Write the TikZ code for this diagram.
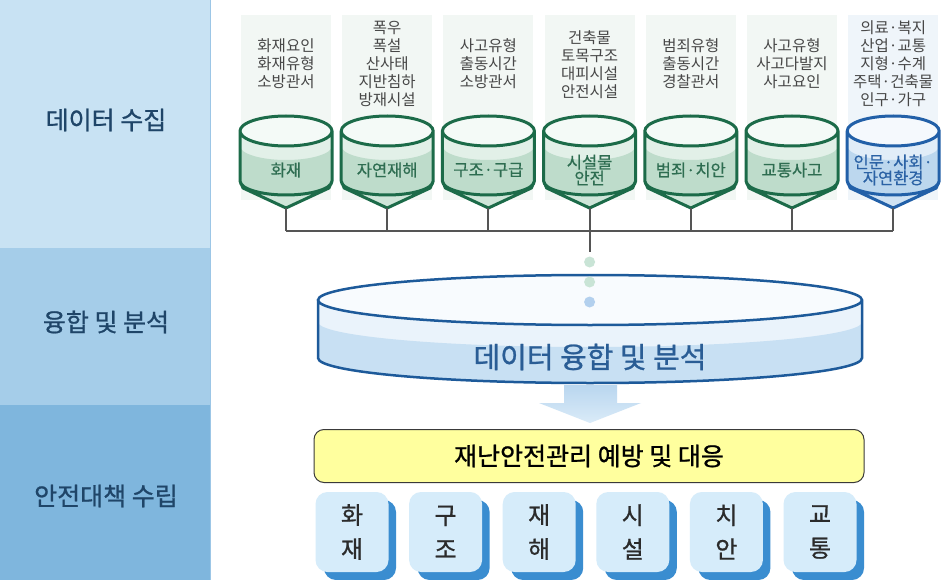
\documentclass[tikz,border=0pt]{standalone}
\usepackage{fontspec}
\setmainfont{Noto Sans CJK KR}
\newfontfamily\medfont[FakeBold=0.9]{Noto Sans CJK KR}
\newfontfamily\semifont[FakeBold=0.5]{Noto Sans CJK KR}
\usetikzlibrary{calc}

\definecolor{bandA}{HTML}{C8E2F3}
\definecolor{bandB}{HTML}{A5CDE9}
\definecolor{bandC}{HTML}{7FB6DD}
\definecolor{bandEdge}{HTML}{9CC6E6}
\definecolor{stageText}{HTML}{1F4568}
\definecolor{panelG}{HTML}{F2F7F4}
\definecolor{panelB}{HTML}{EFF5FA}
\definecolor{itemText}{HTML}{474747}
\definecolor{gLine}{HTML}{1C6B49}
\definecolor{gTop}{HTML}{F4FAF7}
\definecolor{gLight}{HTML}{E2F0E8}
\definecolor{gDark}{HTML}{BEDCCB}
\definecolor{gFunnel}{HTML}{CFE6D9}
\definecolor{gText}{HTML}{2E6D51}
\definecolor{bLine}{HTML}{2260A8}
\definecolor{bTop}{HTML}{F5F9FD}
\definecolor{bLight}{HTML}{E1EDF8}
\definecolor{bDark}{HTML}{BCD7EE}
\definecolor{bFunnel}{HTML}{CFE2F3}
\definecolor{bText}{HTML}{2B62A5}
\definecolor{busGray}{HTML}{555555}
\definecolor{dotG}{HTML}{C9E4D6}
\definecolor{dotB}{HTML}{B3D0EE}
\definecolor{bigLine}{HTML}{1D5A9A}
\definecolor{bigTop}{HTML}{F8FBFE}
\definecolor{bigLight}{HTML}{EAF3FB}
\definecolor{bigDark}{HTML}{C8E0F3}
\definecolor{bigText}{HTML}{2A5D95}
\definecolor{arrowTop}{HTML}{B9D6EF}
\definecolor{arrowBot}{HTML}{DAEBF8}
\definecolor{boxYellow}{HTML}{FFFF9E}
\definecolor{boxLine}{HTML}{3A3A3A}
\definecolor{tileFill}{HTML}{D6ECFA}
\definecolor{tileShadow}{HTML}{3A8DD0}
\definecolor{tileText}{HTML}{2B2B2B}

% one storage hopper: #1 centre x, #2 name, #3 outline, #4 top, #5 light,
% #6 liquid, #7 funnel, #8 label colour, #9 label
\newcommand\drawhopper[9]{%
  \fill[#7] (#1-46,181) -- (#1-43,188) -- (#1,208) -- (#1+43,188) -- (#1+46,181) -- cycle;
  \fill[#5] (#1-46,131) -- (#1-46,181) arc[start angle=180,end angle=0,x radius=46,y radius=14]
            -- (#1+46,131) -- cycle;
  \begin{scope}
    \clip (#1-46,131) -- (#1-46,181) arc[start angle=180,end angle=0,x radius=46,y radius=14]
          -- (#1+46,131) -- cycle;
    \fill[#6] (#1-46,146) arc[start angle=180,end angle=0,x radius=46,y radius=14]
          -- (#1+46,200) -- (#1-46,200) -- cycle;
  \end{scope}
  \fill[#4] (#1,131) ellipse[x radius=46,y radius=15];
  \draw[#3,line width=3,line join=round]
    (#1,131) ellipse[x radius=46,y radius=15]
    (#1-46,131) -- (#1-46,181) -- (#1-43,188) -- (#1,208) -- (#1+43,188) -- (#1+46,181) -- (#1+46,131)
    (#1-46,181) arc[start angle=180,end angle=0,x radius=46,y radius=14];
  \node[font=\semifont\fontsize{16.5}{19}\selectfont,text=#8,align=center] (#2) at (#1,170) {#9};
  \coordinate (#2tip) at (#1,208);
  \coordinate (#2bus) at (#1,231);
}

\begin{document}
\begin{tikzpicture}[x=1pt,y=-1pt,
  stage/.style={font=\medfont\fontsize{25}{30}\selectfont,text=stageText},
  items/.style={font=\fontsize{15.5}{18}\selectfont,text=itemText,align=center},
  tile/.style={fill=tileFill,rounded corners=12,minimum width=73pt,minimum height=80pt,
               inner sep=0pt,align=center,text=tileText,font=\medfont\fontsize{24}{34}\selectfont},
  bus/.style={busGray,line width=2}]
\useasboundingbox (0,0) rectangle (942,580);
\fill[white] (0,0) rectangle (942,580);

% stage column
\fill[bandA] (0,0) rectangle (210,248);
\fill[bandB] (0,248) rectangle (210,405);
\fill[bandC] (0,405) rectangle (210,580);
\draw[bandEdge,line width=1.5] (210.5,0) -- (210.5,580);
\node[stage] (s1) at (106,120) {데이터 수집};
\node[stage] (s2) at (106,322) {융합 및 분석};
\node[stage] (s3) at (106,496) {안전대책 수립};

% source panels
\foreach \cx in {286,387.2,488.4,589.6,690.8,792} {
  \fill[panelG] (\cx-45,15) rectangle (\cx+45,200);
}
\fill[panelB] (893.2-45,15) rectangle (893.2+45,200);

\node[items] (p1) at (286,64) {화재요인\\화재유형\\소방관서};
\node[items] (p2) at (387.2,64) {폭우\\폭설\\산사태\\지반침하\\방재시설};
\node[items] (p3) at (488.4,64) {사고유형\\출동시간\\소방관서};
\node[items] (p4) at (589.6,65) {건축물\\토목구조\\대피시설\\안전시설};
\node[items] (p5) at (690.8,64) {범죄유형\\출동시간\\경찰관서};
\node[items] (p6) at (792,64) {사고유형\\사고다발지\\사고요인};
\node[items] (p7) at (893.2,64) {의료·복지\\산업·교통\\지형·수계\\주택·건축물\\인구·가구};

% hoppers
\drawhopper{286}{h1}{gLine}{gTop}{gLight}{gDark}{gFunnel}{gText}{화재}
\drawhopper{387.2}{h2}{gLine}{gTop}{gLight}{gDark}{gFunnel}{gText}{자연재해}
\drawhopper{488.4}{h3}{gLine}{gTop}{gLight}{gDark}{gFunnel}{gText}{구조·구급}
\drawhopper{589.6}{h4}{gLine}{gTop}{gLight}{gDark}{gFunnel}{gText}{시설물\\[-3pt]안전}
\drawhopper{690.8}{h5}{gLine}{gTop}{gLight}{gDark}{gFunnel}{gText}{범죄·치안}
\drawhopper{792}{h6}{gLine}{gTop}{gLight}{gDark}{gFunnel}{gText}{교통사고}
\drawhopper{893.2}{h7}{bLine}{bTop}{bLight}{bDark}{bFunnel}{bText}{인문·사회·\\[-3pt]자연환경}

% collecting bus
\coordinate (drop) at (589.6,252);
\foreach \h in {h1,h2,h3,h4,h5,h6,h7} { \draw[bus] (\h tip) -- (\h bus); }
\draw[bus] (h1bus) -- (h7bus);
\draw[bus] (h4bus) -- (drop);

% fusion tank
\fill[bigLight] (318,300) -- (318,358) arc[start angle=180,end angle=0,x radius=272,y radius=25] -- (862,300) -- cycle;
\begin{scope}
  \clip (318,300) -- (318,358) arc[start angle=180,end angle=0,x radius=272,y radius=25] -- (862,300) -- cycle;
  \fill[bigDark] (318,322) arc[start angle=180,end angle=0,x radius=272,y radius=25] -- (862,400) -- (318,400) -- cycle;
\end{scope}
\fill[bigTop] (590,300) ellipse[x radius=272,y radius=25];
\draw[bigLine,line width=2.5]
  (590,300) ellipse[x radius=272,y radius=25]
  (318,300) -- (318,358) arc[start angle=180,end angle=0,x radius=272,y radius=25] -- (862,300);
\node[font=\medfont\fontsize{29}{34}\selectfont,text=bigText] (fusion) at (590,357) {데이터 융합 및 분석};

% drops falling into the tank
\fill[dotG] (589.6,262) circle[radius=5.5];
\fill[dotG] (589.6,282) circle[radius=5.5];
\fill[dotB] (589.6,302) circle[radius=5.5];

% down arrow
\shade[top color=arrowTop,bottom color=arrowBot]
  (564,385) -- (617,385) -- (617,403) -- (641,403) -- (590,423) -- (539,403) -- (564,403) -- cycle;

% management box
\node[draw=boxLine,line width=1,fill=boxYellow,rounded corners=10,
      minimum width=550pt,minimum height=53pt,
      font=\medfont\fontsize{25}{30}\selectfont] (plan) at (589,456) {재난안전관리 예방 및 대응};

% field tiles
\foreach \i/\cx/\ta/\tb in {1/352/화/재,2/445.6/구/조,3/539.2/재/해,4/632.8/시/설,5/726.4/치/안,6/820/교/통} {
  \fill[tileShadow,rounded corners=12] (\cx-36+8,492+8) rectangle (\cx+36+8,572+8);
  \node[tile] (t\i) at (\cx,532) {\ta\\\tb};
}
\end{tikzpicture}
\end{document}
